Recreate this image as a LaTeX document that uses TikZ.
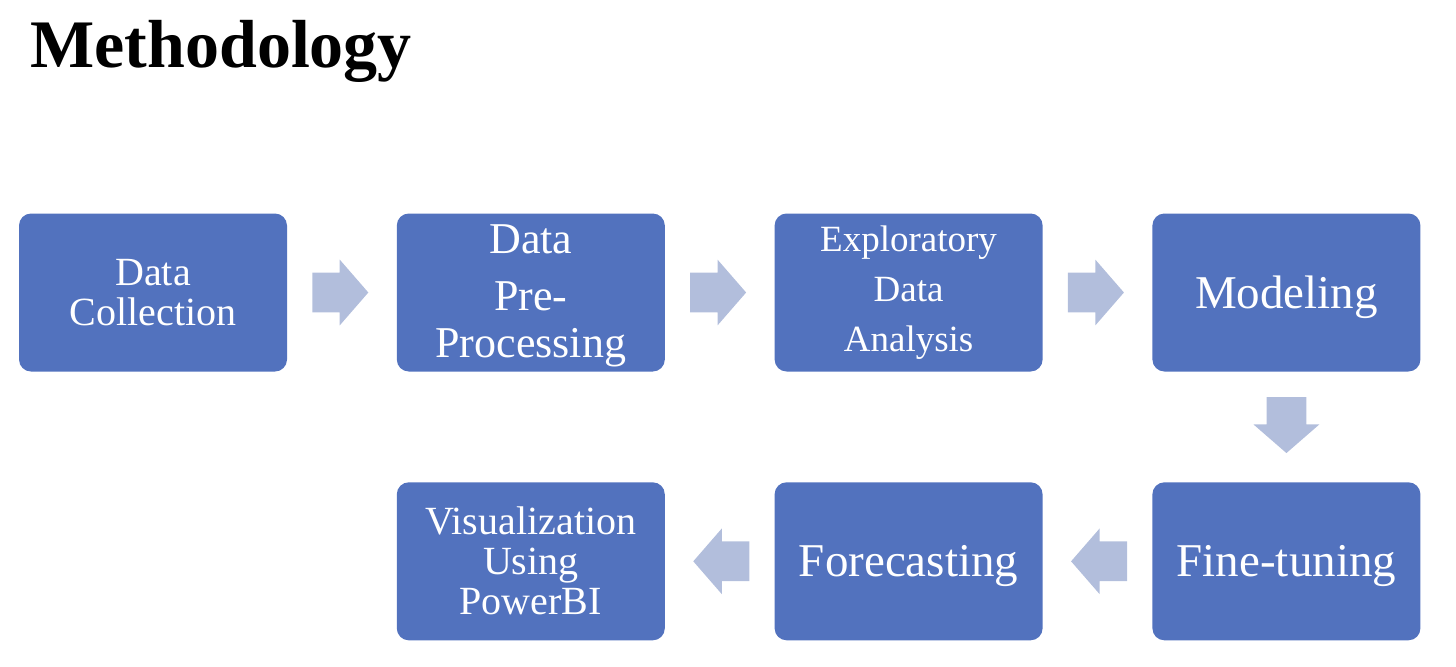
\documentclass[tikz,border=0pt]{standalone}
\usepackage{fontspec}
\setmainfont{Liberation Serif}
\usetikzlibrary{positioning, shapes.arrows}

\definecolor{boxblue}{HTML}{5272BE}
\definecolor{arrowblue}{HTML}{B2BEDC}

\begin{document}
\begin{tikzpicture}[
        x=0.5pt, y=-0.5pt,
        node distance=55pt and 54.5pt,
        stepbox/.style={
            fill=boxblue,
            rounded corners=6pt,
            text=white,
            align=center,
            minimum width=134pt,
            minimum height=79pt,
            inner sep=2pt
        },
        bigbox/.style={stepbox, font=\fontsize{23.5}{28}\selectfont,
            text height=15.6pt, text depth=0pt},
        midbox/.style={stepbox, font=\fontsize{20}{20}\selectfont},
        flowarrow/.style={
            single arrow,
            fill=arrowblue,
            minimum height=28pt,
            minimum width=32.5pt,
            single arrow head extend=6.5pt,
            single arrow tip angle=98,
            inner xsep=0pt, inner ysep=9.75pt,
            sloped, allow upside down,
            pos=0.225, anchor=tail
        }
    ]

    \useasboundingbox (0,0) rectangle (1456,666);

    \node[anchor=base west, inner sep=0pt, font=\bfseries\fontsize{34}{40}\selectfont] (title) at (30,67) {Methodology};

    \node[midbox] (collect) at (153,292.5) {Data\\Collection};
    \node[stepbox, right=of collect, font=\fontsize{22}{23.5}\selectfont] (prep)
        {\rule{0pt}{17.6pt}Data\\[5pt]Pre-\\Processing};
    \node[stepbox, right=of prep, font=\fontsize{18.5}{25}\selectfont] (eda) {Exploratory\\Data\\Analysis};
    \node[bigbox, right=of eda] (model) {Modeling};
    \node[bigbox, below=of model] (tune) {Fine-tuning};
    \node[bigbox, left=of tune] (forecast) {Forecasting};
    \node[midbox, left=of forecast] (viz) {Visualization\\Using\\PowerBI};

    \path (collect) -- node[flowarrow] {} (prep);
    \path (prep) -- node[flowarrow] {} (eda);
    \path (eda) -- node[flowarrow] {} (model);
    \path (model) -- node[flowarrow] {} (tune);
    \path (tune) -- node[flowarrow] {} (forecast);
    \path (forecast) -- node[flowarrow] {} (viz);

\end{tikzpicture}
\end{document}
